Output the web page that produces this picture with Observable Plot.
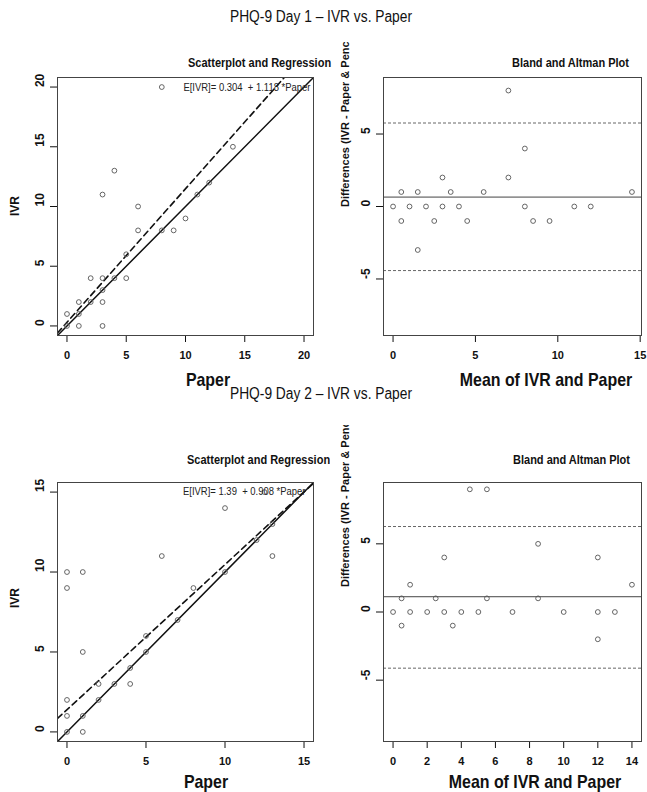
<!DOCTYPE html>
<html><head><meta charset="utf-8">
<script src="https://cdn.jsdelivr.net/npm/d3@7"></script>
<script src="https://cdn.jsdelivr.net/npm/@observablehq/plot@0.6"></script>
<style>
body{margin:0;background:#fff;}
#fig{position:relative;width:647px;height:792px;overflow:hidden;background:#fff;color:#111;
 font-family:"Liberation Sans",Arial,Helvetica,sans-serif;}
.abs{position:absolute;white-space:pre;line-height:1;}
.clip{position:absolute;overflow:hidden;}
.rot{position:absolute;white-space:nowrap;transform-origin:0 0;transform:rotate(-90deg);
 font-family:"Liberation Sans",Arial,sans-serif;font-weight:bold;font-size:11px;line-height:14px;}
</style></head><body><div id="fig"></div>
<script>
// ---------- data ----------
const titles = ["PHQ-9 Day 1 – IVR vs. Paper", "PHQ-9 Day 2 – IVR vs. Paper"];
const subTitles = ["Scatterplot and Regression", "Bland and Altman Plot"];
const xLabels = ["Paper", "Mean of IVR and Paper"];
const yLabels = ["IVR", "Differences (IVR - Paper & Pencil)"];

// Day 1 scatter
const d1Paper = [8,14,4,3,6,10,6,8,9,11,12,5,2,3,4,5,3,1,2,3,0,1,0,1,3];
const d1IVR   = [20,15,13,11,10,9,8,8,8,11,12,6,4,4,4,4,3,2,2,2,1,1,0,0,0];
const d1Reg = {intercept: "0.304", slope: "1.118"};
// Day 1 Bland-Altman
const d1Mean = [0,0.5,0.5,1,1.5,1.5,2,2.5,3,3,3.5,4,4.5,5.5,7,7,8,8,8.5,9.5,11,12,14.5];
const d1Diff = [0,1,-1,0,1,-3,0,-1,2,0,1,0,-1,1,8,2,4,0,-1,-1,0,0,1];
const d1BA = {mean: 0.65, upper: 5.76, lower: -4.42};

// Day 2 scatter
const d2Paper = [0,0,0,0,0,1,1,1,1,2,2,3,4,4,5,5,6,7,8,10,10,13,12,13,12.5];
const d2IVR   = [10,9,2,1,0,10,5,1,0,3,2,3,4,3,6,5,11,7,9,14,10,11,12,13,15];
const d2Reg = {intercept: "1.39", slope: "0.908"};
// Day 2 Bland-Altman
const d2Mean = [0,0.5,0.5,1,1,2,2.5,3,3,3.5,4,4.5,5,5.5,5.5,7,8.5,8.5,10,12,12,12,13,14];
const d2Diff = [0,1,-1,2,0,0,1,4,0,-1,0,9,0,9,1,0,5,1,0,4,0,-2,0,2];
const d2BA = {mean: 1.12, upper: 6.27, lower: -4.12};

// ticks
const s1Ticks = [0,5,10,15,20];
const b1XTicks = [0,5,10,15];
const s2Ticks = [0,5,10,15];
const b2XTicks = [0,2,4,6,8,10,12,14];
const baYTicks = [-5,0,5];

// ---------- drawing ----------
const fig = document.getElementById("fig");
const REG = '"Liberation Sans",Arial,Helvetica,sans-serif';
const SQ = 0.86; // horizontal squeeze of the reference's narrow lettering

function addText(txt, {left, top, size, weight="bold", anchor="center", clipRight=null}) {
  const d = document.createElement("div");
  d.className = "abs";
  d.textContent = txt;
  d.style.fontSize = size + "px";
  d.style.fontWeight = weight;
  d.style.top = (top - size/2) + "px";
  d.style.left = left + "px";
  if (anchor === "center") { d.style.transformOrigin = "50% 50%"; d.style.transform = `translateX(-50%) scaleX(${SQ})`; }
  else { d.style.transformOrigin = "0 50%"; d.style.transform = `scaleX(${SQ})`; }
  if (clipRight != null) {
    const c = document.createElement("div");
    c.className = "clip";
    c.style.left = "0px"; c.style.top = "0px"; c.style.width = clipRight + "px"; c.style.height = "792px";
    c.appendChild(d); fig.appendChild(c);
  } else fig.appendChild(d);
}

function addRotLabel(txt, {cx, bottom, clipTop}) {
  const c = document.createElement("div");
  c.className = "clip";
  c.style.left = (cx - 10) + "px"; c.style.top = clipTop + "px";
  c.style.width = "20px"; c.style.height = (bottom - clipTop + 2) + "px";
  const s = document.createElement("div");
  s.className = "rot";
  s.textContent = txt;
  s.style.left = "3px"; s.style.top = (bottom - clipTop) + "px";
  c.appendChild(s); fig.appendChild(c);
}

function panel({left, top, width, height, mt, mr, mb, ml, xDomain, yDomain, xTicks, yTicks, marks}) {
  const p = Plot.plot({
    width, height, marginTop: mt, marginRight: mr, marginBottom: mb, marginLeft: ml,
    style: {fontFamily: REG, fontSize: "11px", fontWeight: "bold", color: "#111", background: "transparent", overflow: "visible"},
    x: {domain: xDomain, ticks: xTicks, tickSize: 7, tickPadding: 9, label: null},
    y: {domain: yDomain, ticks: yTicks, tickSize: 7, tickFormat: () => "", label: null},
    marks: [
      ...marks,
      Plot.text(yTicks, {y: d => d, text: d => String(d), frameAnchor: "left", dx: -17, rotate: -90,
        fontFamily: REG, fontSize: 12, fontWeight: "bold", fill: "#111"}),
      Plot.frame({stroke: "#444", strokeWidth: 1})
    ]
  });
  p.style.position = "absolute";
  p.style.left = left + "px";
  p.style.top = top + "px";
  fig.appendChild(p);
  // squeeze the regression annotation like the reference's narrow type
  p.querySelectorAll("text").forEach(t => {
    if (t.textContent.startsWith("E[IVR]")) {
      t.style.whiteSpace = "pre";
      const L = t.getComputedTextLength();
      t.setAttribute("textLength", (L * SQ).toFixed(1));
      t.setAttribute("lengthAdjust", "spacingAndGlyphs");
    }
  });
}

function scatterMarks(paper, ivr, reg, xDomain, dy, dx) {
  const pts = paper.map((p, i) => ({p, v: ivr[i]}));
  const a = +reg.intercept, b = +reg.slope;
  const regLine = xDomain.map(x => ({x, y: a + b * x}));
  const idLine = xDomain.map(x => ({x, y: x}));
  return [
    Plot.line(idLine, {x: "x", y: "y", stroke: "#111", strokeWidth: 1.5, clip: true}),
    Plot.line(regLine, {x: "x", y: "y", stroke: "#111", strokeWidth: 1.6, strokeDasharray: "6,4", clip: true}),
    Plot.dot(pts, {x: "p", y: "v", r: 2.4, stroke: "#555", strokeWidth: 0.9, fill: "none"}),
    Plot.text([`E[IVR]= ${reg.intercept}  + ${reg.slope} *Paper`], {frameAnchor: "top-right", dx, dy,
      lineAnchor: "middle", textAnchor: "end", text: d => d, fontFamily: REG, fontSize: 11, fontWeight: "normal", fill: "#222"})
  ];
}

function baMarks(mean, diff, st) {
  const pts = mean.map((m, i) => ({m, d: diff[i]}));
  return [
    Plot.ruleY([st.mean], {stroke: "#444", strokeWidth: 1}),
    Plot.ruleY([st.upper, st.lower], {stroke: "#555", strokeWidth: 0.9, strokeDasharray: "3,2"}),
    Plot.dot(pts, {x: "m", y: "d", r: 2.4, stroke: "#555", strokeWidth: 0.9, fill: "none"})
  ];
}

// Day 1
const s1X = [-0.8, 20.8];
panel({left: 0, top: 40, width: 330, height: 330, mt: 37, mr: 17, mb: 35, ml: 57,
  xDomain: s1X, yDomain: [-0.8, 20.8], xTicks: s1Ticks, yTicks: s1Ticks,
  marks: scatterMarks(d1Paper, d1IVR, d1Reg, s1X, 10, -3)});
panel({left: 330, top: 40, width: 317, height: 330, mt: 37, mr: 6, mb: 35, ml: 53,
  xDomain: [-0.58, 15.08], yDomain: [-8.9, 8.9], xTicks: b1XTicks, yTicks: baYTicks,
  marks: baMarks(d1Mean, d1Diff, d1BA)});

// Day 2
const s2X = [-0.6, 15.6];
panel({left: 0, top: 440, width: 330, height: 330, mt: 42, mr: 17, mb: 29, ml: 57,
  xDomain: s2X, yDomain: [-0.6, 15.6], xTicks: s2Ticks, yTicks: s2Ticks,
  marks: scatterMarks(d2Paper, d2IVR, d2Reg, s2X, 9, -8)});
panel({left: 330, top: 440, width: 317, height: 330, mt: 42, mr: 6, mb: 29, ml: 53,
  xDomain: [-0.56, 14.56], yDomain: [-9.5, 9.5], xTicks: b2XTicks, yTicks: baYTicks,
  marks: baMarks(d2Mean, d2Diff, d2BA)});

// Texts
addText(titles[0], {left: 321, top: 17, size: 16, weight: "normal"});
addText(titles[1], {left: 321, top: 394, size: 16, weight: "normal"});
addText(subTitles[0], {left: 188, top: 63, size: 12.8, anchor: "left"});
addText(subTitles[1], {left: 512, top: 63, size: 12.8, anchor: "left"});
addText(subTitles[0], {left: 187, top: 460, size: 12.8, anchor: "left", clipRight: 330});
addText(subTitles[1], {left: 513, top: 460, size: 12.8, anchor: "left"});
addText(xLabels[0], {left: 208, top: 380, size: 18.5});
addText(xLabels[1], {left: 546, top: 380, size: 18.5});
addText(xLabels[0], {left: 206, top: 782, size: 18.5});
addText(xLabels[1], {left: 535, top: 782, size: 18.5});

// rotated y labels
function addIVR(cy) {
  const d = document.createElement("div");
  d.className = "abs";
  d.textContent = yLabels[0];
  d.style.fontFamily = REG; d.style.fontWeight = "bold"; d.style.fontSize = "12px";
  d.style.left = "15px"; d.style.top = cy + "px";
  d.style.transform = "translate(-50%,-50%) rotate(-90deg)";
  fig.appendChild(d);
}
addIVR(206);
addIVR(598);
addRotLabel(yLabels[1], {cx: 345, bottom: 207, clipTop: 42});
addRotLabel(yLabels[1], {cx: 345, bottom: 587, clipTop: 425});
</script></body></html>
